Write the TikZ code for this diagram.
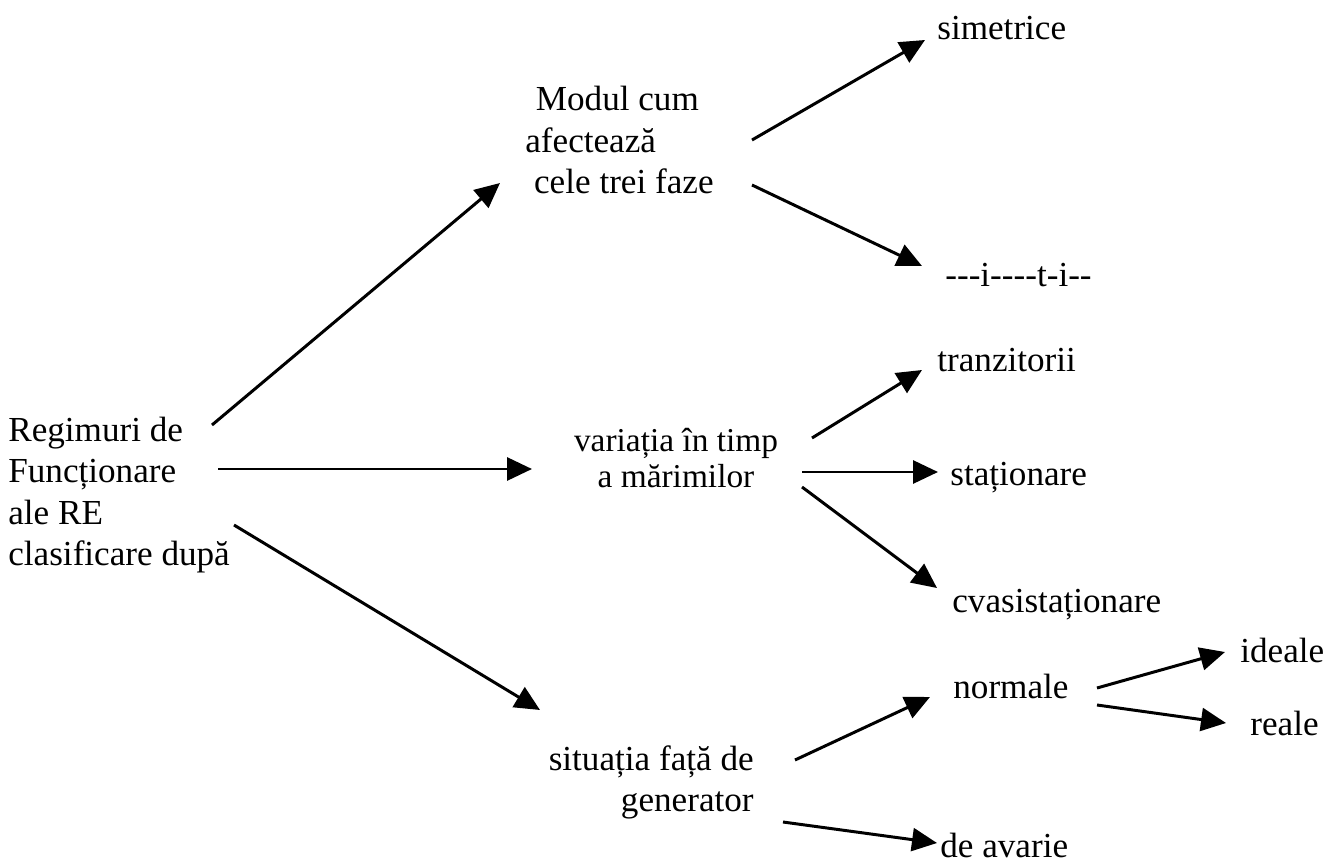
\documentclass[tikz,border=0pt]{standalone}
\usepackage{fontspec}
\setmainfont{Liberation Serif}
\usetikzlibrary{arrows.meta}
\tikzset{
  lbl/.style={inner sep=0pt,anchor=west,font=\fontsize{20}{23.4}\selectfont},
  arr/.style={line width=1.7pt,-{Triangle[length=0.5cm,width=0.46cm]}}
}
\begin{document}
\begin{tikzpicture}[x=0.02cm,y=-0.02cm]
\useasboundingbox (0,0) rectangle (1339,862);
% nodes
\node[lbl,align=left] (root) at (8,495) {Regimuri de\\Funcționare\\ale RE\\clasificare după};
\node[lbl,align=left] (modul) at (525,140) {\hspace{6pt}Modul cum\\afectează\\\hspace{5pt}cele trei faze};
\node[lbl,anchor=center,align=center,font=\fontsize{19}{21}\selectfont] (varia) at (676,458) {variația în timp\\a mărimilor};
\node[lbl,anchor=east,align=right] (situ) at (754,782) {situația față de\\generator};
\node[lbl] (sim) at (937,28) {simetrice};
\node[lbl] (nesim) at (945,275) {{-}{-}{-}i{-}{-}{-}{-}t{-}i{-}{-}};
\node[lbl] (tranz) at (937,360) {tranzitorii};
\node[lbl] (stat) at (950,478) {staționare};
\node[lbl] (cvasi) at (952,605) {cvasistaționare};
\node[lbl] (norm) at (953,686) {normale};
\node[lbl] (ideal) at (1240,650) {ideale};
\node[lbl] (real) at (1250,723) {reale};
\node[lbl] (avarie) at (940,845) {de avarie};
% arrows
\draw[arr] ([shift={(204,-70)}]root.west) -- ([shift={(-25,43)}]modul.west);
\draw[arr] ([shift={(210,-26)}]root.west) -- ([shift={(-144,11)}]varia.center);
\draw[arr] ([shift={(226,30)}]root.west) -- ([shift={(-214,-72)}]situ.east);
\draw[arr] ([shift={(227,0)}]modul.west) -- ([shift={(-12,12)}]sim.west);
\draw[arr] ([shift={(227,45)}]modul.west) -- ([shift={(-23,-9)}]nesim.west);
\draw[arr] ([shift={(136,-20)}]varia.center) -- ([shift={(-15,10)}]tranz.west);
\draw[arr] ([shift={(126,14)}]varia.center) -- ([shift={(-12,-6)}]stat.west);
\draw[arr] ([shift={(126,29)}]varia.center) -- ([shift={(-15,-17)}]cvasi.west);
\draw[arr] ([shift={(41,-22)}]situ.east) -- ([shift={(-23,11)}]norm.west);
\draw[arr] ([shift={(29,40)}]situ.east) -- ([shift={(-3,-2)}]avarie.west);
\draw[arr] ([shift={(144,2)}]norm.west) -- ([shift={(-15,2)}]ideal.west);
\draw[arr] ([shift={(144,19)}]norm.west) -- ([shift={(-24,0)}]real.west);
\end{tikzpicture}
\end{document}
